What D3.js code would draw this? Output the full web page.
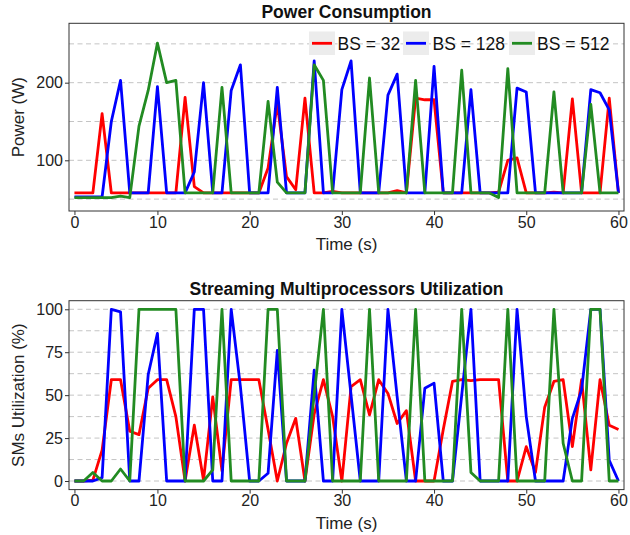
<!DOCTYPE html>
<html><head><meta charset="utf-8">
<script src="https://cdn.jsdelivr.net/npm/d3@7"></script>
<style>
body{margin:0;background:#fff}
svg{display:block}
text{font-family:"Liberation Sans",Arial,Helvetica,sans-serif}
</style>
</head><body>
<svg id="chart" width="630" height="535"></svg>
<script>
// ---------- data ----------
const time = [1,2,3,4,5,6,7,8,9,10,11,12,13,14,15,16,17,18,19,20,
  21,22,23,24,25,26,27,28,29,30,31,32,33,34,35,36,37,38,39,40,
  41,42,43,44,45,46,47,48,49,50,51,52,53,54,55,56,57,58,59,60];
const seriesNames = ["BS = 32", "BS = 128", "BS = 512"];
const seriesColors = ["#ff0000", "#0000ff", "#228b22"];

const power32  = [58,58,58,160,58,58,58,58,58,58, 58,58,181,66,58,58,58,58,58,58,
  58,90,173,79,62,180,58,58,60,58, 58,58,58,58,58,61,58,180,178,178,
  58,58,58,58,58,58,59,100,103,58, 58,58,59,58,179,58,58,58,180,58];
const power128 = [53,53,53,53,150,203,58,58,58,195, 58,58,58,85,200,58,58,190,223,58,
  58,58,194,58,58,58,228,58,58,191, 228,58,58,58,184,211,58,58,58,221,
  58,58,58,191,58,58,58,58,193,188, 58,58,58,58,58,58,191,187,165,58];
const power512 = [52,52,52,52,52,54,52,144,190,251, 200,203,58,58,58,58,194,58,58,58,
  58,176,72,58,58,58,223,203,58,58, 58,58,206,58,58,58,58,203,58,58,
  58,58,216,58,58,58,52,218,58,58, 58,58,188,58,58,58,172,58,58,58];

const sm32  = [0,0,0.5,18,59,59,29,27,54,59, 59,37.5,0,32.5,0.5,49,6,59,59,59,
  59,30,0,22,36.5,0,39,59,37.5,0, 55,59,38.5,59,51,33.5,41,0,0,0,
  30,58,59,58.5,59,59,59,0,0,20, 5,43,58,59,20,59,6.5,59,32.5,30];
const sm128 = [0,0,0,2,100,98.5,0,0,62,86, 0,0,0,100,100,0,0,100,55,0,
  0,4.5,76,0,0,0,64.5,0,0,100, 50,0,0,0,100,49,0,0,54,57,
  0,0,50,100,0,0,0,0,100,37.5, 0,0,0,0,36.5,53,100,100,12,0];
const sm512 = [0,0,5,0,0,7,0,100,100,100, 100,100,0,0,0,6.5,100,0,0,0,
  0,100,100,0,0,0,50,100,0,0, 0,0,100,0,0,0,0,100,0,0,
  0,0,100,5,0,0,0,100,0,0, 0,0,100,22,0,0,100,100,0,0];

const xTickValues = [1,10,20,30,40,50,60];
const xTickLabels = ["0","10","20","30","40","50","60"];
const powerTicks = [100,200];
const powerGrid  = [50,100,150,200,250];
const smTicks = [0,25,50,75,100];
const smGrid  = [0,12.5,25,37.5,50,62.5,75,87.5,100];

// ---------- layout ----------
const svg = d3.select("#chart");
const left = 69, right = 624;
const x = d3.scaleLinear().domain([0.41, 60.6]).range([left, right]);

const panels = [
  {title:"Power Consumption", ylabel:"Power (W)", top:23.3, bottom:211,
   ydomain:[34.7,276.5], ticks:powerTicks, grid:powerGrid,
   series:[power32,power128,power512], legend:true},
  {title:"Streaming Multiprocessors Utilization", ylabel:"SMs Utilization (%)", top:300.7, bottom:489.6,
   ydomain:[-5,105], ticks:smTicks, grid:smGrid,
   series:[sm32,sm128,sm512], legend:false}
];

panels.forEach(p => {
  const y = d3.scaleLinear().domain(p.ydomain).range([p.bottom, p.top]);
  const g = svg.append("g");

  // grid
  g.selectAll("line.grid").data(p.grid).enter().append("line")
    .attr("x1", left).attr("x2", right)
    .attr("y1", d => y(d)).attr("y2", d => y(d))
    .attr("stroke", "#c4c4c4").attr("stroke-width", 1)
    .attr("stroke-dasharray", "5,3.5");

  // clip
  const cid = "clip" + p.top;
  svg.append("clipPath").attr("id", cid).append("rect")
    .attr("x", left).attr("y", p.top).attr("width", right-left).attr("height", p.bottom-p.top);

  const line = d3.line().x((d,i) => x(time[i])).y(d => y(d));
  p.series.forEach((s, k) => {
    g.append("path").datum(s)
      .attr("clip-path", `url(#${cid})`)
      .attr("fill", "none").attr("stroke", seriesColors[k])
      .attr("stroke-width", 2.8).attr("stroke-linejoin", "round")
      .attr("d", line);
  });

  // frame
  g.append("rect").attr("x", left).attr("y", p.top)
    .attr("width", right-left).attr("height", p.bottom-p.top)
    .attr("fill", "none").attr("stroke", "#333").attr("stroke-width", 1);

  // axes
  const xa = g.append("g").attr("transform", `translate(0,${p.bottom})`)
    .call(d3.axisBottom(x).tickValues(xTickValues)
      .tickFormat((d,i) => xTickLabels[i]).tickSize(4).tickPadding(1.5));
  const ya = g.append("g").attr("transform", `translate(${left},0)`)
    .call(d3.axisLeft(y).tickValues(p.ticks).tickSize(4).tickPadding(2));
  [xa, ya].forEach(a => {
    a.select(".domain").remove();
    a.selectAll("line").attr("stroke", "#333");
    a.selectAll("text").attr("font-size", "16px").attr("fill", "#222")
      .style("font-family", '"Liberation Sans",Arial,sans-serif');
  });

  // title
  g.append("text").attr("x", (left+right)/2).attr("y", p.top - 5.3)
    .attr("text-anchor", "middle").attr("font-size", "17.5px").attr("font-weight", "bold")
    .attr("fill", "#111").text(p.title);
  // x label
  g.append("text").attr("x", (left+right)/2).attr("y", p.bottom + 39)
    .attr("text-anchor", "middle").attr("font-size", "17px").attr("fill", "#222").text("Time (s)");
  // y label
  const cy = (p.top + p.bottom)/2;
  g.append("text").attr("transform", `translate(24,${cy}) rotate(-90)`)
    .attr("text-anchor", "middle").attr("font-size", "17px").attr("fill", "#222").text(p.ylabel);

  // legend
  if (p.legend) {
    const items = [
      {bx:309, tx:337.5},
      {bx:403, tx:432.5},
      {bx:509, tx:537}
    ];
    const lg = g.append("g");
    items.forEach((it, k) => {
      lg.append("rect").attr("x", it.bx).attr("y", 31.5).attr("width", 26).attr("height", 23.5)
        .attr("fill", "#ececec");
      lg.append("line").attr("x1", it.bx+3).attr("x2", it.bx+23)
        .attr("y1", 43.3).attr("y2", 43.3)
        .attr("stroke", seriesColors[k]).attr("stroke-width", 2.8);
      lg.append("text").attr("x", it.tx).attr("y", 49.7)
        .attr("font-size", "17.5px").attr("fill", "#111").text(seriesNames[k]);
    });
  }
});
</script>
</body></html>
